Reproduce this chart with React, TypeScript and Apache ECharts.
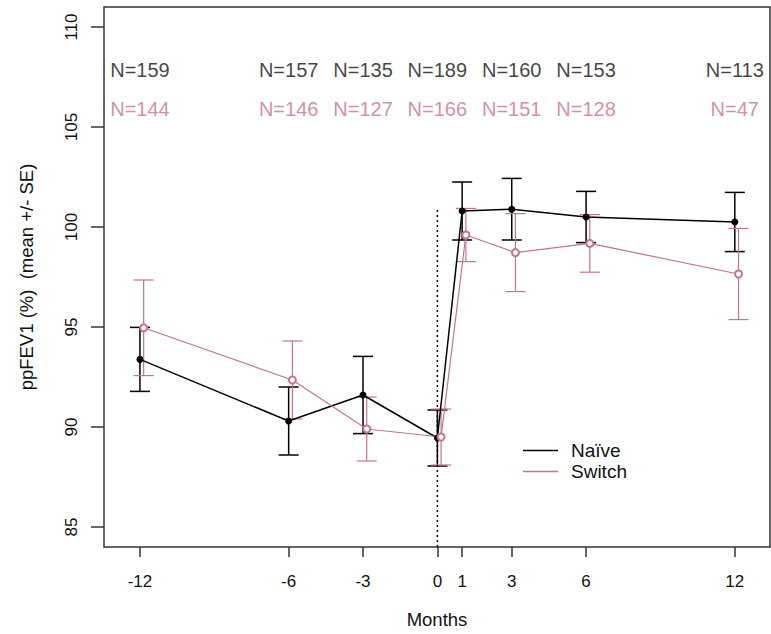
import React, { useEffect, useRef } from "react";
import * as echarts from "echarts";

const months = [-12, -6, -3, 0, 1, 3, 6, 12];
const naiveMean = [93.38, 90.3, 91.6, 89.45, 100.8, 100.89, 100.5, 100.25];
const naiveSE = [1.6, 1.7, 1.93, 1.4, 1.45, 1.54, 1.28, 1.48];
const switchMean = [94.96, 92.35, 89.9, 89.5, 99.6, 98.72, 99.18, 97.65];
const switchSE = [2.39, 1.95, 1.6, 1.4, 1.33, 1.95, 1.44, 2.28];

const nMonths = [-12, -6, -3, 0, 3, 6, 12];
const naiveN = [159, 157, 135, 189, 160, 153, 113];
const switchN = [144, 146, 127, 166, 151, 128, 47];
const naiveNRow = 107.85;
const switchNRow = 105.9;

const yTicks = [85, 90, 95, 100, 105, 110];
const xTicks = [-12, -6, -3, 0, 1, 3, 6, 12];
const refLine = [[0, 84], [0, 101]];

const switchDodge = 0.15;
const BLACK = "#000000";
const PINK = "#c8728f";
const FONT = "Liberation Sans, Arial, sans-serif";

function errorSeries(name: string, xs: number[], means: number[], ses: number[], color: string, width: number) {
  return {
    type: "custom",
    name,
    data: xs.map((x, i) => [x, means[i] - ses[i], means[i] + ses[i]]),
    encode: { x: 0, y: [1, 2] },
    z: 3,
    renderItem: (params: any, api: any) => {
      const x = api.value(0);
      const lo = api.coord([x, api.value(1)]);
      const hi = api.coord([x, api.value(2)]);
      const hw = 10;
      const style = { stroke: color, lineWidth: width };
      return {
        type: "group",
        children: [
          { type: "line", shape: { x1: lo[0], y1: lo[1], x2: hi[0], y2: hi[1] }, style },
          { type: "line", shape: { x1: lo[0] - hw, y1: lo[1], x2: lo[0] + hw, y2: lo[1] }, style },
          { type: "line", shape: { x1: hi[0] - hw, y1: hi[1], x2: hi[0] + hw, y2: hi[1] }, style },
        ],
      };
    },
  };
}

function nLabelSeries(values: number[], row: number, color: string) {
  return {
    type: "scatter",
    symbolSize: 0,
    silent: true,
    data: nMonths.map((m, i) => ({ value: [m, row], nLabel: "N=" + values[i] })),
    label: {
      show: true,
      position: "inside",
      formatter: (p: any) => p.data.nLabel,
      color,
      fontSize: 20,
      fontFamily: FONT,
    },
  };
}

export default function App() {
  const ref = useRef<HTMLDivElement>(null);
  useEffect(() => {
    if (!ref.current) return;
    const chart = echarts.init(ref.current, null, { renderer: "svg" });
    const switchX = months.map((m) => m + switchDodge);
    chart.setOption({
      animation: false,
      backgroundColor: "#ffffff",
      textStyle: { fontFamily: FONT },
      grid: {
        left: 104,
        right: 1,
        top: 7,
        bottom: 86,
        show: true,
        borderColor: "#333",
        borderWidth: 1.5,
        backgroundColor: "transparent",
      },
      legend: {
        orient: "vertical",
        left: 518,
        top: 436,
        icon: "rect",
        itemWidth: 35,
        itemHeight: 1.5,
        itemGap: 2,
        data: ["Naïve", "Switch"],
        itemStyle: { borderWidth: 0 },
        textStyle: { fontSize: 19, fontFamily: FONT, color: "#111", padding: [0, 0, 0, 8] },
      },
      xAxis: {
        type: "value",
        min: -13.45,
        max: 13.42,
        name: "Months",
        nameLocation: "middle",
        nameGap: 63,
        nameTextStyle: { fontSize: 18.5, color: "#111", fontFamily: FONT },
        axisLine: { show: false, onZero: false },
        splitLine: { show: false },
        axisTick: { show: true, customValues: xTicks, length: 10, lineStyle: { color: "#333", width: 1.5 } },
        axisLabel: { customValues: xTicks, margin: 26, fontSize: 17, color: "#111", fontFamily: FONT },
      },
      yAxis: {
        type: "value",
        min: 84,
        max: 111,
        name: "ppFEV1 (%)  (mean +/- SE)",
        nameLocation: "middle",
        nameRotate: 90,
        nameGap: 68,
        nameTextStyle: { fontSize: 18.5, color: "#111", fontFamily: FONT },
        axisLine: { show: false, onZero: false },
        splitLine: { show: false },
        axisTick: { show: true, customValues: yTicks, length: 13, lineStyle: { color: "#333", width: 1.5 } },
        axisLabel: { customValues: yTicks, rotate: 90, margin: 24, fontSize: 17, color: "#111", fontFamily: FONT },
      },
      series: [
        {
          type: "line",
          name: "ref",
          data: refLine,
          symbol: "none",
          silent: true,
          lineStyle: { color: "#000", width: 1.5, type: [2, 3] },
        },
        errorSeries("naiveErr", months, naiveMean, naiveSE, BLACK, 1.5),
        errorSeries("switchErr", switchX, switchMean, switchSE, PINK, 1.2),
        {
          type: "line",
          name: "Naïve",
          data: months.map((m, i) => [m, naiveMean[i]]),
          color: BLACK,
          symbol: "circle",
          symbolSize: 7,
          z: 4,
          lineStyle: { color: BLACK, width: 1.5 },
          itemStyle: { color: BLACK },
        },
        {
          type: "line",
          name: "Switch",
          data: switchX.map((m, i) => [m, switchMean[i]]),
          color: PINK,
          symbol: "emptyCircle",
          symbolSize: 7,
          z: 4,
          lineStyle: { color: PINK, width: 1.2 },
          itemStyle: { color: PINK, borderColor: PINK, borderWidth: 1.2 },
        },
        nLabelSeries(naiveN, naiveNRow, "#111"),
        nLabelSeries(switchN, switchNRow, PINK),
      ],
    });
    return () => chart.dispose();
  }, []);
  return <div ref={ref} style={{ position: "fixed", left: 0, top: 0, width: 771, height: 634 }} />;
}
